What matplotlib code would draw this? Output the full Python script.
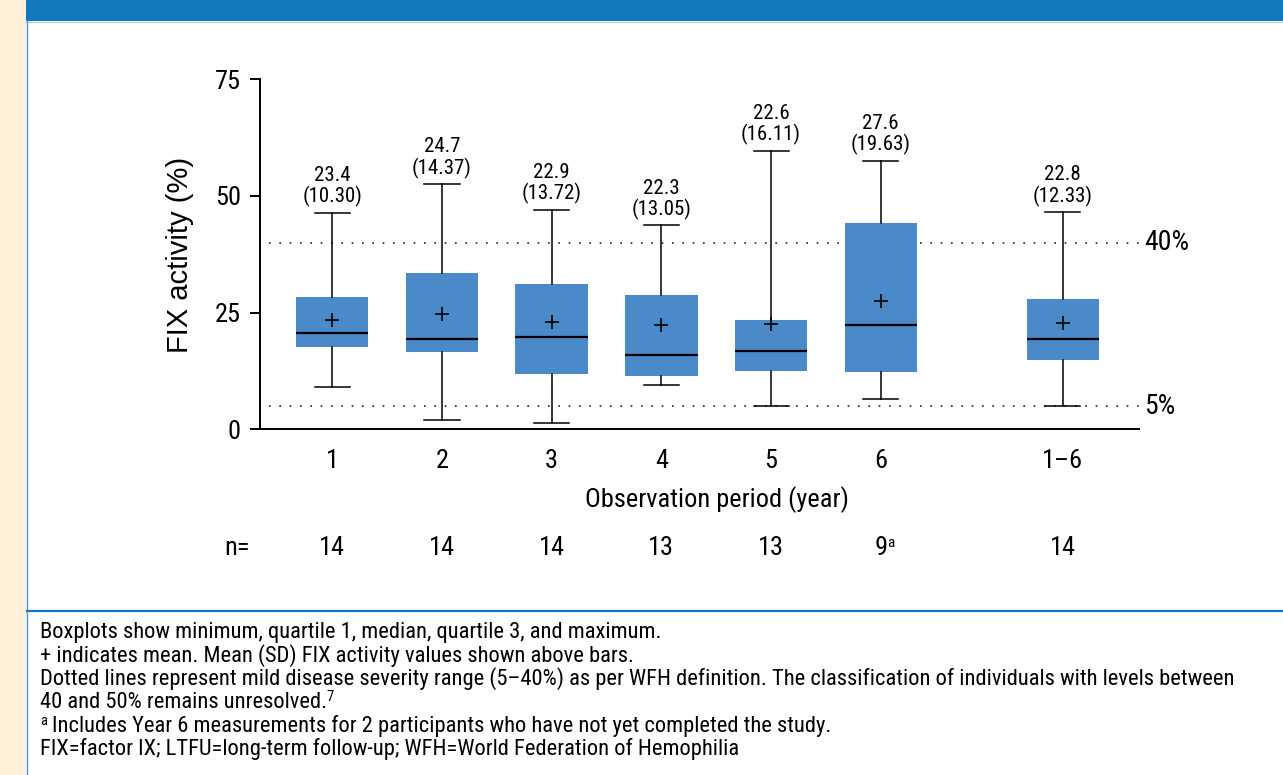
import matplotlib
matplotlib.use("Agg")
import matplotlib.pyplot as plt
import matplotlib.transforms as mtransforms
from matplotlib import font_manager as fm
from matplotlib.patches import Rectangle
from matplotlib.lines import Line2D

# ---- data -------------------------------------------------------------
periods = ["1", "2", "3", "4", "5", "6", "1–6"]
positions = [1, 2, 3, 4, 5, 6, 7.66]
minimum = [9.1, 2.0, 1.4, 9.6, 5.0, 6.6, 5.0]
quartile1 = [17.7, 16.6, 11.9, 11.5, 12.6, 12.3, 14.9]
median = [20.7, 19.3, 19.7, 15.9, 16.8, 22.3, 19.3]
quartile3 = [28.3, 33.6, 31.1, 28.7, 23.4, 44.2, 27.9]
maximum = [46.4, 52.6, 47.1, 43.8, 59.7, 57.6, 46.6]
mean = [23.4, 24.7, 22.9, 22.3, 22.6, 27.6, 22.8]
sd = [10.30, 14.37, 13.72, 13.05, 16.11, 19.63, 12.33]
n_counts = ["14", "14", "14", "13", "13", "9", "14"]
n_notes = ["", "", "", "", "", "a", ""]
severity_limits = [5, 40]
y_ticks = [0, 25, 50, 75]

# footnote lines as (leading superscript, text, trailing superscript)
notes = [
    ("", "Boxplots show minimum, quartile 1, median, quartile 3, and maximum.", ""),
    ("", "+ indicates mean. Mean (SD) FIX activity values shown above bars.", ""),
    ("", "Dotted lines represent mild disease severity range (5–40%) as per WFH "
         "definition. The classification of individuals with levels between", ""),
    ("", "40 and 50% remains unresolved.", "7"),
    ("a", "Includes Year 6 measurements for 2 participants who have not yet "
          "completed the study.", ""),
    ("", "FIX=factor IX; LTFU=long-term follow-up; WFH=World Federation of Hemophilia", ""),
]


# ---- fonts --------------------------------------------------------------
def pick_font(names):
    for name in names:
        try:
            fm.findfont(fm.FontProperties(family=name), fallback_to_default=False)
            return name
        except Exception:
            continue
    return "DejaVu Sans"


COND = pick_font(["Liberation Sans Narrow", "DejaVu Sans Condensed",
                  "Roboto Condensed", "Liberation Sans"])
REG = pick_font(["Liberation Sans", "Arimo", "DejaVu Sans"])

plt.rcParams["font.family"] = [COND, "DejaVu Sans"]

BOX = "#4A8AC8"
BAND = "#1279BE"
BEIGE = "#FEF0D9"

W, H = 1283, 775
fig = plt.figure(figsize=(W / 100, H / 100), dpi=100)
fig.patch.set_facecolor("white")


def fx(x):
    return x / W


def fy(y):
    return 1 - y / H


# ---- page frame -----------------------------------------------------------
fig.add_artist(Rectangle((0, 0), fx(26.5), 1, transform=fig.transFigure,
                         facecolor=BEIGE, edgecolor="none", zorder=0))
fig.add_artist(Rectangle((fx(26.5), fy(21)), 1 - fx(26.5), 21 / H,
                         transform=fig.transFigure, facecolor=BAND,
                         edgecolor="none", zorder=1))
fig.add_artist(Line2D([fx(26.5), 1], [fy(21.5), fy(21.5)],
                      transform=fig.transFigure, color="#A9CCEA", lw=0.8))
fig.add_artist(Line2D([fx(27.3), fx(27.3)], [0, fy(21)],
                      transform=fig.transFigure, color="#4C97D3", lw=1.0))
fig.add_artist(Line2D([fx(27.3), 1], [fy(609.6), fy(609.6)],
                      transform=fig.transFigure, color="#A9CCEA", lw=0.8))
fig.add_artist(Line2D([fx(27.3), 1], [fy(611.3), fy(611.3)],
                      transform=fig.transFigure, color=BAND, lw=1.6))

# ---- chart ------------------------------------------------------------------
ax = fig.add_axes([fx(260), fy(429.3), (1139 - 260) / W, (429.3 - 79.3) / H])
ax.set_xlim(0.341, 8.354)
ax.set_ylim(0, 75)

stats = [
    dict(whislo=lo, q1=a, med=m, q3=b, whishi=hi, mean=mu, fliers=[])
    for lo, a, m, b, hi, mu in zip(minimum, quartile1, median, quartile3,
                                   maximum, mean)
]
ax.bxp(stats, positions=positions, widths=0.66, capwidths=0.32,
       patch_artist=True, showmeans=True, showfliers=False,
       manage_ticks=False,
       boxprops=dict(facecolor=BOX, edgecolor="none", linewidth=0),
       whiskerprops=dict(color="black", linewidth=1.1),
       capprops=dict(color="black", linewidth=1.1),
       medianprops=dict(color="black", linewidth=1.6),
       meanprops=dict(marker="+", markersize=10.5, markeredgecolor="black",
                      markeredgewidth=1.2))

# mild-severity reference lines
for lim in severity_limits:
    ax.axhline(lim, xmin=(269 - 260) / 879, xmax=(1142 - 260) / 879,
               color="#222222", lw=1.2, linestyle=(0, (1, 5.2)),
               clip_on=False, zorder=1)
    ax.annotate(f"{lim}%", xy=(1.0057, lim),
                xycoords=("axes fraction", "data"),
                xytext=(0, -5.5), textcoords="offset points",
                ha="left", va="baseline", fontsize=20)

# mean (SD) above each whisker
for p, hi, mu, s in zip(positions, maximum, mean, sd):
    ax.annotate(f"{mu:.1f}", xy=(p, hi), xytext=(0, 22.6),
                textcoords="offset points", ha="center", va="baseline",
                fontsize=15)
    ax.annotate(f"({s:.2f})", xy=(p, hi), xytext=(0, 7.2),
                textcoords="offset points", ha="center", va="baseline",
                fontsize=15)

for side in ("top", "right"):
    ax.spines[side].set_visible(False)
for side in ("left", "bottom"):
    ax.spines[side].set_linewidth(1.4)

ax.set_yticks(y_ticks)
ax.tick_params(axis="y", length=7.2, width=1.4, pad=6.7, labelsize=19)
ax.set_xticks(positions, periods)
ax.tick_params(axis="x", length=0, pad=14, labelsize=19)

ax.text(-0.091, 0.498, "FIX activity (%)", transform=ax.transAxes,
        rotation=90, ha="center", va="center", fontsize=21,
        family=[REG, "DejaVu Sans"])
ax.text((717 - 260) / 879, (429.3 - 500) / 350, "Observation period (year)",
        transform=ax.transAxes, ha="center", va="center", fontsize=19)

# sample sizes
blend = mtransforms.blended_transform_factory(ax.transData, ax.transAxes)
n_y = (429.3 - 555) / 350
ax.text(-0.0265, n_y, "n=", transform=ax.transAxes, ha="center",
        va="baseline", fontsize=19)
for p, n, note in zip(positions, n_counts, n_notes):
    ax.text(p, n_y, n, transform=blend, ha="center", va="baseline",
            fontsize=19)
    if note:
        ax.annotate(note, xy=(p, n_y), xycoords=blend, xytext=(4.5, 6),
                    textcoords="offset points", ha="left", va="baseline",
                    fontsize=11)

# ---- footnotes --------------------------------------------------------------
renderer = fig.canvas.get_renderer()
NOTE_SIZE = 16.2
SUP_SIZE = 10.5
for i, (pre, body, post) in enumerate(notes):
    base = 638 + i * 23.4
    x0 = 40
    if pre:
        sup = fig.text(fx(x0), fy(base - 7), pre, ha="left", va="baseline",
                       fontsize=SUP_SIZE)
        x0 = sup.get_window_extent(renderer).x1 + 5
    t = fig.text(fx(x0), fy(base), body, ha="left", va="baseline",
                 fontsize=NOTE_SIZE)
    if post:
        x1 = t.get_window_extent(renderer).x1 - 1
        fig.text(x1 / W, fy(base - 7), post, ha="left", va="baseline",
                 fontsize=SUP_SIZE)

fig.savefig("out.png", dpi=100)
